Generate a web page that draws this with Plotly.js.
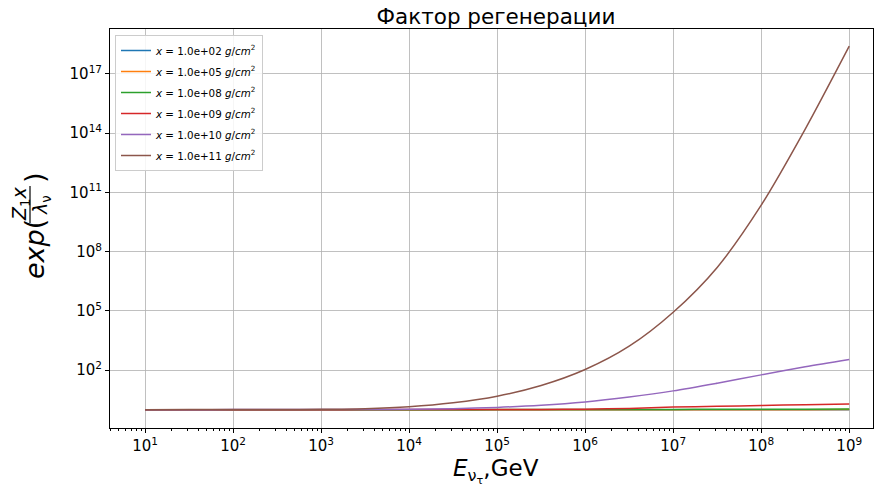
<!DOCTYPE html>
<html>
<head>
<meta charset="utf-8">
<script src="https://cdn.plot.ly/plotly-3.0.1.min.js"></script>
<style>html,body{margin:0;padding:0;background:#fff;}#chart{width:874px;height:486px;}</style>
</head>
<body>
<div id="chart"></div>
<script>
// Neutrino energy, GeV (half-decade sampling points)
const energy = [1e1, 3.162e1, 1e2, 3.162e2, 1e3, 3.162e3, 1e4, 3.162e4, 1e5, 3.162e5, 1e6, 3.162e6, 1e7, 3.162e7, 1e8, 3.162e8, 1e9];

// Regeneration factor exp(Z1 x / lambda_nu)
const reg_1e2  = [1, 1, 1, 1, 1, 1, 1, 1, 1, 1, 1, 1, 1, 1, 1, 1, 1];
const reg_1e5  = [1, 1, 1, 1, 1, 1, 1, 1, 1, 1, 1, 1.0001, 1.0002, 1.0003, 1.0005, 1.0006, 1.0007];
const reg_1e8  = [1, 1, 1, 1, 1, 1, 1, 1.0005, 1.001, 1.002, 1.006, 1.01, 1.03, 1.04, 1.05, 1.06, 1.066];
const reg_1e9  = [1, 1, 1, 1, 1.0002, 1.0007, 1.002, 1.005, 1.012, 1.026, 1.06, 1.15, 1.34, 1.48, 1.62, 1.77, 1.9];
const reg_1e10 = [1, 1.0002, 1.0007, 1.0023, 1.007, 1.019, 1.047, 1.122, 1.3, 1.66, 2.45, 4.37, 8.91, 21.9, 57.5, 147.9, 346.7];
const reg_1e11 = [1, 1.0014, 1.0046, 1.0116, 1.035, 1.122, 1.41, 2.24, 4.79, 16.6, 107, 1622, 8.51e4, 1.585e7, 2.24e10, 1.585e14, 2.51e18];

const seriesNames = ['1.0e+02', '1.0e+05', '1.0e+08', '1.0e+09', '1.0e+10', '1.0e+11'];
const seriesData = [reg_1e2, reg_1e5, reg_1e8, reg_1e9, reg_1e10, reg_1e11];
const colors = ['#1f77b4', '#ff7f0e', '#2ca02c', '#d62728', '#9467bd', '#8c564b'];

const xTickVals = [1e1, 1e2, 1e3, 1e4, 1e5, 1e6, 1e7, 1e8, 1e9];
const xTickText = ['10<sup>1</sup>', '10<sup>2</sup>', '10<sup>3</sup>', '10<sup>4</sup>', '10<sup>5</sup>', '10<sup>6</sup>', '10<sup>7</sup>', '10<sup>8</sup>', '10<sup>9</sup>'];
const yTickVals = [1e2, 1e5, 1e8, 1e11, 1e14, 1e17];
const yTickText = ['10<sup>2</sup>', '10<sup>5</sup>', '10<sup>8</sup>', '10<sup>11</sup>', '10<sup>14</sup>', '10<sup>17</sup>'];

const W = 874, H = 486;
const M = {l: 110, r: 1, t: 29, b: 58};
const pw = W - M.l - M.r, ph = H - M.t - M.b;
const px = v => (v - M.l) / pw;
const py = v => (H - M.b - v) / ph;

const traces = seriesData.map((d, i) => ({
  x: energy, y: d, type: 'scatter', mode: 'lines',
  name: '<i>x</i> = ' + seriesNames[i] + ' <i>g</i>/<i>cm</i><sup>2</sup>',
  legendgroup: 'g' + i,
  line: {color: colors[i], width: 1.5, shape: 'spline', smoothing: 0.8}
}));

const fam = 'DejaVu Sans, sans-serif';
const layout = {
  width: W, height: H, margin: M,
  paper_bgcolor: '#fff', plot_bgcolor: '#fff',
  font: {family: fam, color: '#000'},
  title: {text: 'Фактор регенерации', font: {size: 21.5, family: fam, color: '#000'},
          x: px(496), xref: 'paper', xanchor: 'center', y: 1 - 16 / H, yref: 'container', yanchor: 'middle'},
  showlegend: true,
  legend: {x: px(115), y: py(35), xanchor: 'left', yanchor: 'top', bgcolor: 'rgba(255,255,255,0.85)',
           bordercolor: '#cccccc', borderwidth: 1, font: {size: 10.3, family: fam}, tracegroupgap: 2,
           itemwidth: 30},
  xaxis: {type: 'log', range: [0.602, 9.27], tickvals: xTickVals, ticktext: xTickText,
          showgrid: true, gridcolor: '#b0b0b0', gridwidth: 0.8, zeroline: false,
          showline: true, linecolor: '#000', linewidth: 1, mirror: true,
          ticks: 'outside', ticklen: 4, tickcolor: '#000', tickfont: {size: 15, family: fam},
          minor: {ticks: 'outside', ticklen: 2, tickcolor: '#000', dtick: 'D1', showgrid: false}},
  yaxis: {type: 'log', range: [-0.93, 19.27], tickvals: yTickVals, ticktext: yTickText,
          showgrid: true, gridcolor: '#b0b0b0', gridwidth: 0.8, zeroline: false,
          showline: true, linecolor: '#000', linewidth: 1, mirror: true,
          ticks: 'outside', ticklen: 4, tickcolor: '#000', tickfont: {size: 15, family: fam}},
  annotations: [
    {text: '<i>E</i><sub>ν<sub>τ</sub></sub>,GeV', xref: 'paper', yref: 'paper', x: px(496), y: py(470.5),
     showarrow: false, xanchor: 'center', yanchor: 'middle', font: {size: 23, family: fam}},
    {text: '<i>exp</i>(', xref: 'paper', yref: 'paper', x: px(34), y: py(249), textangle: -90,
     showarrow: false, xanchor: 'center', yanchor: 'middle', font: {size: 27, family: fam}},
    {text: '<i>Z</i><sub>1</sub><i>x</i>', xref: 'paper', yref: 'paper', x: px(20), y: py(204), textangle: -90,
     showarrow: false, xanchor: 'center', yanchor: 'middle', font: {size: 19, family: fam}},
    {text: '<i>λ</i><sub>ν</sub>', xref: 'paper', yref: 'paper', x: px(41), y: py(205), textangle: -90,
     showarrow: false, xanchor: 'center', yanchor: 'middle', font: {size: 19, family: fam}},
    {text: ')', xref: 'paper', yref: 'paper', x: px(34), y: py(178), textangle: -90,
     showarrow: false, xanchor: 'center', yanchor: 'middle', font: {size: 27, family: fam}}
  ],
  shapes: [
    {type: 'line', xref: 'paper', yref: 'paper', x0: px(30), x1: px(30), y0: py(223), y1: py(186),
     line: {color: '#000', width: 1.2}}
  ]
};

Plotly.newPlot('chart', traces, layout, {displayModeBar: false, staticPlot: true});
</script>
</body>
</html>
